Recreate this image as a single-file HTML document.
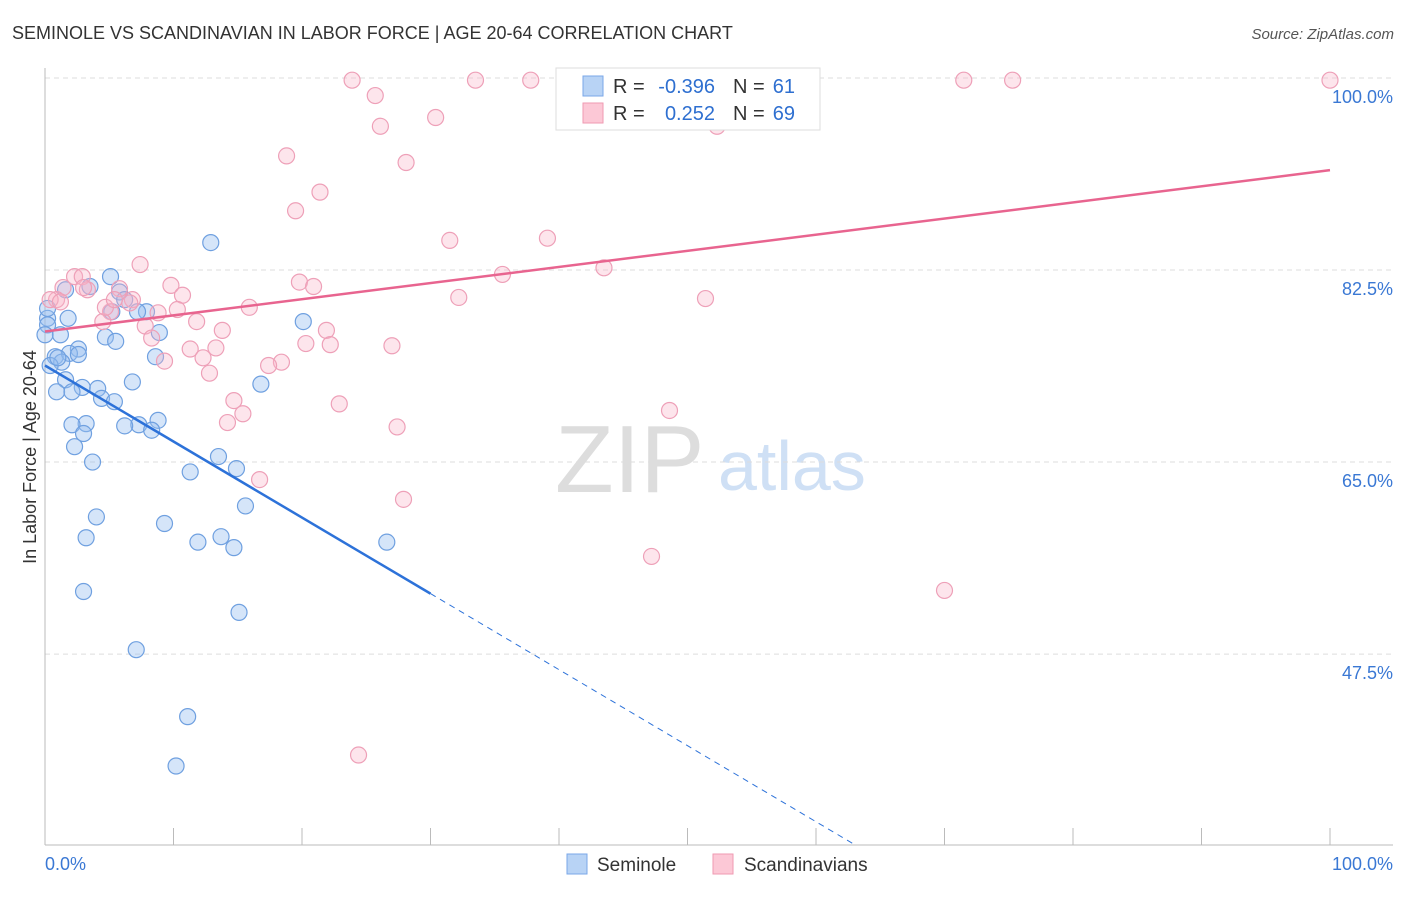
<!DOCTYPE html>
<html><head><meta charset="utf-8"><style>
body{margin:0;background:#fff;font-family:"Liberation Sans",sans-serif}
svg text{font-family:"Liberation Sans",sans-serif}
</style></head><body>
<svg id="c" width="1406" height="892">
<text x="12" y="39" font-size="18" fill="#333">SEMINOLE VS SCANDINAVIAN IN LABOR FORCE | AGE 20-64 CORRELATION CHART</text>
<text x="1394" y="39" font-size="15" fill="#555" font-style="italic" text-anchor="end">Source: ZipAtlas.com</text>
<text x="36" y="457" font-size="18" fill="#333" text-anchor="middle" transform="rotate(-90 36 457)">In Labor Force | Age 20-64</text>
<text x="555" y="492" font-size="96" fill="#ddd" font-family="Liberation Serif">ZIP</text>
<text x="718" y="490" font-size="70" fill="#cfe0f5">atlas</text>
<g id="grid"></g><g id="pts"></g><g id="lines"></g>
<g font-size="20">
<rect x="556" y="68" width="264" height="62" fill="#fff" stroke="#ddd"/>
<rect x="583" y="76" width="20" height="20" fill="#b8d3f5" stroke="#7aa7e8"/>
<text x="613" y="93" fill="#333">R =</text>
<text x="715" y="93" fill="#2e6fd0" text-anchor="end">-0.396</text>
<text x="733" y="93" fill="#333">N =</text>
<text x="795" y="93" fill="#2e6fd0" text-anchor="end">61</text>
<rect x="583" y="103" width="20" height="20" fill="#fcc8d6" stroke="#ef9ab2"/>
<text x="613" y="120" fill="#333">R =</text>
<text x="715" y="120" fill="#2e6fd0" text-anchor="end">0.252</text>
<text x="733" y="120" fill="#333">N =</text>
<text x="795" y="120" fill="#2e6fd0" text-anchor="end">69</text>
</g>
<g>
<rect x="567" y="854" width="20" height="20" fill="#b8d3f5" stroke="#7aa7e8"/>
<text x="597" y="871" font-size="19" fill="#333">Seminole</text>
<rect x="713" y="854" width="20" height="20" fill="#fcc8d6" stroke="#ef9ab2"/>
<text x="744" y="871" font-size="19" fill="#333">Scandinavians</text>
</g>
</svg>
<script>
const yTicks=[100,82.5,65,47.5];
const yTickLabels=["100.0%","82.5%","65.0%","47.5%"];
const blueX=[12.9,5.1,3.5,5.8,1.6,7.9,7.2,20.1,0.2,1.8,8.9,4.7,5.5,0.2,1.2,2.6,0.8,1.9,8.6,1.3,0.4,2.6,6.8,16.8,1.6,2.9,4.1,0.9,2.1,4.4,5.4,8.8,7.3,6.2,8.3,3.2,2.1,3.0,2.3,3.7,13.5,14.9,11.3,15.6,4.0,9.3,3.2,11.9,13.7,14.7,26.6,3.0,15.1,7.1,11.1,10.2,0.2,0,1.0,5.2,6.2];
const blueY=[85.0,81.9,81.0,80.5,80.7,78.7,78.7,77.8,78.1,78.1,76.8,76.4,76.0,77.5,76.6,75.3,74.6,74.9,74.6,74.1,73.8,74.8,72.3,72.1,72.5,71.8,71.7,71.4,71.4,70.8,70.5,68.8,68.4,68.3,67.9,68.5,68.4,67.6,66.4,65.0,65.5,64.4,64.1,61.0,60.0,59.4,58.1,57.7,58.2,57.2,57.7,53.2,51.3,47.9,41.8,37.3,79.0,76.6,74.5,78.7,79.8];
const pinkX=[23.9,33.5,37.8,71.5,75.3,100,25.7,30.4,26.1,52.3,18.8,28.1,21.4,19.5,31.5,39.1,7.4,2.3,2.9,43.5,35.6,19.8,20.9,9.8,10.7,1.4,3.3,5.8,0.9,0.4,6.8,6.6,32.2,51.4,15.9,8.8,10.3,5.1,4.5,11.8,7.8,13.8,21.9,20.3,22.2,27.0,8.3,11.3,13.3,12.3,9.3,18.4,17.4,12.8,14.7,22.9,15.4,14.2,48.6,27.4,16.7,27.9,47.2,70.0,24.4,1.2,3.0,4.7,5.4];
const pinkY=[99.8,99.8,99.8,99.8,99.8,99.8,98.4,96.4,95.6,95.6,92.9,92.3,89.6,87.9,85.2,85.4,83.0,81.9,81.9,82.7,82.1,81.4,81.0,81.1,80.2,80.9,80.7,80.8,79.8,79.8,79.8,79.5,80.0,79.9,79.1,78.6,78.9,78.7,77.8,77.8,77.4,77.0,77.0,75.8,75.7,75.6,76.3,75.3,75.4,74.5,74.2,74.1,73.8,73.1,70.6,70.3,69.4,68.6,69.7,68.2,63.4,61.6,56.4,53.3,38.3,79.6,80.9,79.1,79.8];
const blueTrend=[73.8,-0.693];
const pinkTrend=[76.9,0.147];
const X0=45,X1=1330,YT=78,YMIN=30.1,YB=845;
const sx=v=>X0+(X1-X0)*v/100;
const sy=v=>YT+(YB-YT)*(100-v)/(100-YMIN);
const NS="http://www.w3.org/2000/svg";
function mk(p,t,a){const e=document.createElementNS(NS,t);for(const k in a)e.setAttribute(k,a[k]);p.appendChild(e);return e;}
const grid=document.getElementById('grid');
yTicks.forEach((t,i)=>{
 const l=mk(grid,'line',{x1:45,x2:1393,y1:sy(t),y2:sy(t),stroke:'#ddd','stroke-dasharray':'5,4'});
 
 
 const tx=mk(grid,'text',{x:1393,y:sy(t)+25,'font-size':18,fill:'#3a78d4','text-anchor':'end'});
 tx.textContent=yTickLabels[i];
 
 
});
const ax=mk(grid,'line',{x1:45,x2:45,y1:68,y2:845,stroke:'#bbb'});


const bx=mk(grid,'line',{x1:45,x2:1393,y1:845,y2:845,stroke:'#bbb'});


for(let v=0;v<=100;v+=10){const t=mk(grid,'line',{x1:sx(v),x2:sx(v),y1:828,y2:845,stroke:'#bbb'});
 
 }
[[0,'start','0.0%'],[100,'end','100.0%']].forEach(a=>{const t=mk(grid,'text',{x:a[0]==0?45:1393,y:870,'font-size':18,fill:'#3a78d4','text-anchor':a[1]});t.textContent=a[2];
 
 });
const pts=document.getElementById('pts');
blueX.forEach((x,i)=>{const c=mk(pts,'circle',{cx:sx(x),cy:sy(blueY[i]),r:8,fill:'rgba(150,190,240,0.4)',stroke:'#6fa0e0','stroke-width':1.2});
 
 });
pinkX.forEach((x,i)=>{const c=mk(pts,'circle',{cx:sx(x),cy:sy(pinkY[i]),r:8,fill:'rgba(250,180,200,0.35)',stroke:'#eea0b8','stroke-width':1.2});
 
 });
const lg=document.getElementById('lines');
const pl=mk(lg,'line',{x1:sx(0),y1:sy(pinkTrend[0]),x2:sx(100),y2:sy(pinkTrend[0]+pinkTrend[1]*100),stroke:'#e8648f','stroke-width':2.5});


const bl=mk(lg,'line',{x1:sx(0),y1:sy(blueTrend[0]),x2:sx(30),y2:sy(blueTrend[0]+blueTrend[1]*30),stroke:'#2d72d9','stroke-width':2.5});


const xe=(YMIN-blueTrend[0])/blueTrend[1];
const bd=mk(lg,'line',{x1:sx(30),y1:sy(blueTrend[0]+blueTrend[1]*30),x2:sx(xe),y2:sy(YMIN),stroke:'#2d72d9','stroke-width':1,'stroke-dasharray':'6,5'});


</script>
</body></html>
